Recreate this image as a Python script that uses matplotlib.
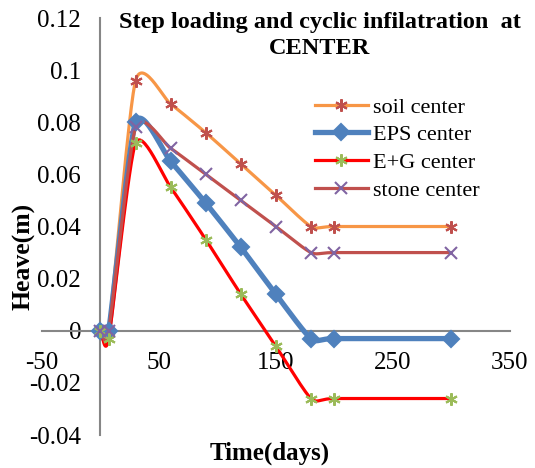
import numpy as np
import matplotlib
matplotlib.use("Agg")
import matplotlib.pyplot as plt

plt.rcParams['font.family'] = ['Liberation Serif', 'DejaVu Serif']
plt.rcParams['axes.unicode_minus'] = False

# data
days = [0, 7, 30, 60, 90, 120, 150, 180, 200, 300]
soil = [0, 0, 0.096, 0.087, 0.076, 0.064, 0.052, 0.040, 0.040, 0.040]
eps = [0, 0, 0.080, 0.065, 0.049, 0.032, 0.014, -0.003, -0.003, -0.003]
eg = [0, -0.003, 0.072, 0.055, 0.035, 0.014, -0.006, -0.026, -0.026, -0.026]
stone = [0, 0, 0.078, 0.070, 0.060, 0.050, 0.040, 0.030, 0.030, 0.030]

xticks = [-50, 50, 150, 250, 350]
yticks = [-0.04, -0.02, 0, 0.02, 0.04, 0.06, 0.08, 0.1, 0.12]
ytick_labels = ['-0.04', '-0.02', '0', '0.02', '0.04', '0.06', '0.08', '0.1', '0.12']


def smooth(x, y, n=30, k=0.65):
    # catmull-rom curve, a bit softer, like excel's smoothed line
    x = np.asarray(x, float)
    y = np.asarray(y, float)
    px = np.concatenate([[2 * x[0] - x[1]], x, [2 * x[-1] - x[-2]]])
    py = np.concatenate([[2 * y[0] - y[1]], y, [2 * y[-1] - y[-2]]])
    ox, oy = [], []
    t = np.linspace(0, 1, n)
    h00 = 2 * t**3 - 3 * t**2 + 1
    h10 = t**3 - 2 * t**2 + t
    h01 = -2 * t**3 + 3 * t**2
    h11 = t**3 - t**2
    for i in range(1, len(px) - 2):
        for p, o in ((px, ox), (py, oy)):
            m1 = k * 0.5 * (p[i + 1] - p[i - 1])
            m2 = k * 0.5 * (p[i + 2] - p[i])
            o.extend(h00 * p[i] + h10 * m1 + h01 * p[i + 1] + h11 * m2)
    return ox, oy


fig = plt.figure(figsize=(5.35, 4.68), dpi=100)
ax = fig.add_axes([0.0785, 0.0705, 0.8745, 0.891])

series = [
    (soil, 'soil center', '#F79646', 2.3, (6, 2, 0), '#C0504D', 9),
    (eps, 'EPS center', '#4F81BD', 3.8, 'D', '#4F81BD', 8),
    (eg, 'E+G center', '#FF0000', 2.3, (6, 2, 0), '#9BBB59', 9),
    (stone, 'stone center', '#C0504D', 2.3, 'x', '#8064A2', 9),
]
for vals, name, col, lw, mk, mcol, ms in series:
    sx, sy = smooth(days, vals)
    ax.plot(sx, sy, color=col, lw=lw, zorder=3)
    ax.plot(days, vals, ls='none', marker=mk, color=mcol, markersize=ms,
            markeredgewidth=1.5, zorder=4)
    ax.plot([], [], color=col, lw=lw, marker=mk, markerfacecolor=mcol,
            markeredgecolor=mcol, markersize=ms, markeredgewidth=1.5, label=name)

ax.set_xlim(-50, 350)
ax.set_ylim(-0.04, 0.12)
ax.set_xticks(xticks)
ax.set_yticks(yticks)
ax.set_yticklabels(ytick_labels)
ax.tick_params(axis='both', length=0, labelsize=18)
ax.tick_params(axis='y', pad=14)
ax.tick_params(axis='x', pad=15)

for s in ['top', 'right']:
    ax.spines[s].set_visible(False)
for s in ['left', 'bottom']:
    ax.spines[s].set_position(('data', 0))
    ax.spines[s].set_color('#868686')
    ax.spines[s].set_linewidth(1.5)

ax.legend(loc='center left', bbox_to_anchor=(0.589, 0.682),
          bbox_transform=fig.transFigure, frameon=False, borderpad=0,
          borderaxespad=0, fontsize=16, handlelength=2.36, handletextpad=0.23,
          labelspacing=0.32)

fig.text(0.598, 0.975, 'Step loading and cyclic infilatration  at\nCENTER',
         ha='center', va='top', fontsize=17.5, fontweight='bold', linespacing=1.33)
fig.text(0.045, 0.451, 'Heave(m)', rotation=90, ha='center', va='center',
         fontsize=18.5, fontweight='bold')
fig.text(0.505, 0.032, 'Time(days)', ha='center', va='center',
         fontsize=18, fontweight='bold')

fig.savefig('out.png', dpi=100)
